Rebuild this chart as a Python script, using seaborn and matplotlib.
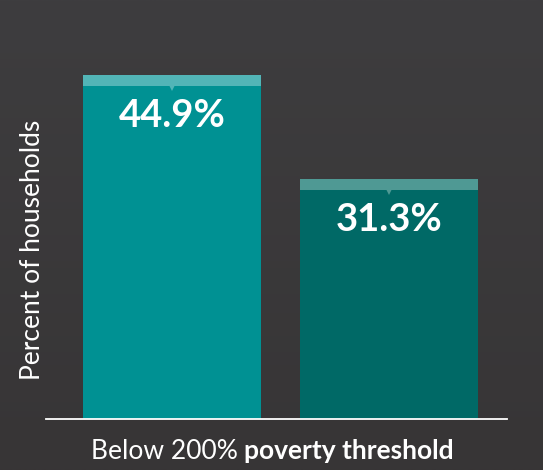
import numpy as np
import matplotlib
matplotlib.use("Agg")
import matplotlib.pyplot as plt
import seaborn as sns
import pandas as pd
from matplotlib.colors import LinearSegmentedColormap

categories = ["Group A", "Group B"]
values = [44.9, 31.3]
labels = ["44.9%", "31.3%"]
bar_colors = ["#009193", "#006966"]
cap_colors = ["#52b5b7", "#4f9994"]
ylabel = "Percent of households"
xlabel_normal = "Below 200%"
xlabel_bold = "poverty threshold"

sns.set_theme(style="white")
plt.rcParams["font.family"] = ["Lato", "DejaVu Sans"]

W, H = 543, 470
fig = plt.figure(figsize=(W / 100, H / 100), dpi=100)

# background gradient
bg = fig.add_axes([0, 0, 1, 1], zorder=-10)
cmap = LinearSegmentedColormap.from_list("bg", ["#3e3d3f", "#373536"])
grad = np.linspace(0, 1, 256).reshape(-1, 1)
bg.imshow(grad, aspect="auto", cmap=cmap, extent=[0, 1, 0, 1])
bg.set_axis_off()

ax = fig.add_axes([46 / W, 51 / H, 461 / W, 383 / H])
ax.patch.set_alpha(0)

df = pd.DataFrame({"cat": categories, "val": values})
sns.barplot(data=df, x="cat", y="val", hue="cat", palette=bar_colors,
            width=0.82, legend=False, ax=ax, saturation=1, edgecolor="none")

ax.set_ylim(0, 50)
ax.set_xlim(-0.581, 1.544)

band = 1.44
for i, (v, cc, lab) in enumerate(zip(values, cap_colors, labels)):
    ax.bar(i, band, bottom=v - band, width=0.82, color=cc, edgecolor="none", zorder=3)
    ax.plot(i, v - band, marker="v", markersize=7, color=cc, markeredgewidth=0, zorder=3)
    ax.text(i, v - 5.3, lab, ha="center", va="center", color="white",
            fontsize=27.5, fontweight="bold", zorder=4)

for s in ["top", "right", "left"]:
    ax.spines[s].set_visible(False)
ax.spines["bottom"].set_color("white")
ax.spines["bottom"].set_linewidth(1.3)
ax.set_xticks([])
ax.set_yticks([])
ax.set_xlabel("")
ax.set_ylabel("")

fig.text(33 / W, 1 - 250 / H, ylabel, rotation=90, ha="center", va="center",
         color="white", fontsize=19)
fig.text(238 / W, 1 - 459 / H, xlabel_normal, ha="right", va="baseline",
         color="white", fontsize=19)
fig.text(244 / W, 1 - 459 / H, xlabel_bold, ha="left", va="baseline",
         color="white", fontsize=19, fontweight="bold")

fig.savefig("out.png", dpi=100)
